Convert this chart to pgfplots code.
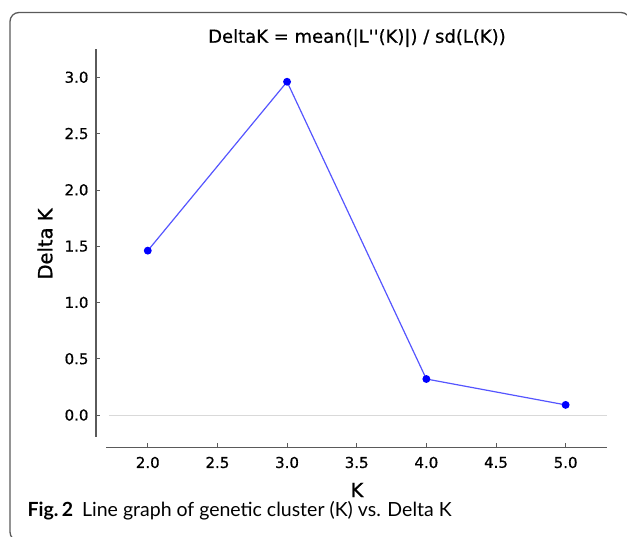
\documentclass[border=0pt]{standalone}
\usepackage{pgfplots}
\pgfplotsset{compat=1.18}
\usepackage{fontspec}
\newfontfamily\dejavu[FakeBold=0.6]{DejaVu Sans}
\newfontfamily\dejavulab[FakeBold=1]{DejaVu Sans}
\newfontfamily\capfont{Lato}
\definecolor{spinegray}{RGB}{90,90,90}
\definecolor{linecol}{RGB}{85,85,255}

\begin{document}
\begin{tikzpicture}[x=1pt,y=1pt]
\path[use as bounding box] (0,0) rectangle (627,537);
% frame round the figure
\begin{scope}
\clip (0,0) rectangle (627,537);
\draw[line width=1.3pt, spinegray, rounded corners=9pt] (10,-4) rectangle (630,524.5);
\end{scope}

\begin{axis}[
  at={(106pt,100pt)}, anchor=south west,
  width=501pt, height=388pt, scale only axis,
  xmin=1.70, xmax=5.297, ymin=-0.195, ymax=3.251,
  axis x line*=bottom, axis y line*=left,
  axis x line shift=10.3pt, axis y line shift=10pt,
  axis line style={draw=spinegray, line width=1.3pt, -},
  xtick={2,2.5,3,3.5,4,4.5,5},
  ytick={0,0.5,1,1.5,2,2.5,3},
  tick align=inside,
  major tick length=4pt,
  tick style={spinegray, line width=0.6pt},
  /pgf/number format/.cd, fixed, fixed zerofill, precision=1, assume math mode=true,
  /pgfplots/.cd,
  ticklabel style={font=\dejavu\fontsize{15}{18}\selectfont},
  yticklabel style={xshift=-4pt},
  xticklabel style={yshift=-6pt},
  clip=false,
]
\draw[black!15, line width=1pt] (axis cs:1.72,0) -- (axis cs:5.297,0);
\addplot[color=linecol, line width=1.2pt, mark=*, mark size=3.3pt,
  mark options={fill=blue, draw=blue}]
  coordinates {(2,1.46)(3,2.96)(4,0.32)(5,0.09)};
\end{axis}

\node[font=\dejavu\fontsize{18}{21}\selectfont] at (357,499) {DeltaK = mean(|L''(K)|) / sd(L(K))};
\node[rotate=90, font=\dejavulab\fontsize{19.5}{22}\selectfont] at (45,293) {Delta K};
\node[font=\dejavulab\fontsize{19.5}{22}\selectfont] at (357,47) {K};
\node[anchor=base west, font=\capfont\fontsize{19.5}{24}\selectfont, inner sep=0pt] at (27.5,20)
  {\textbf{Fig.\,2}\hspace{9pt}Line graph of genetic cluster (K) vs. Delta K};
\end{tikzpicture}
\end{document}
